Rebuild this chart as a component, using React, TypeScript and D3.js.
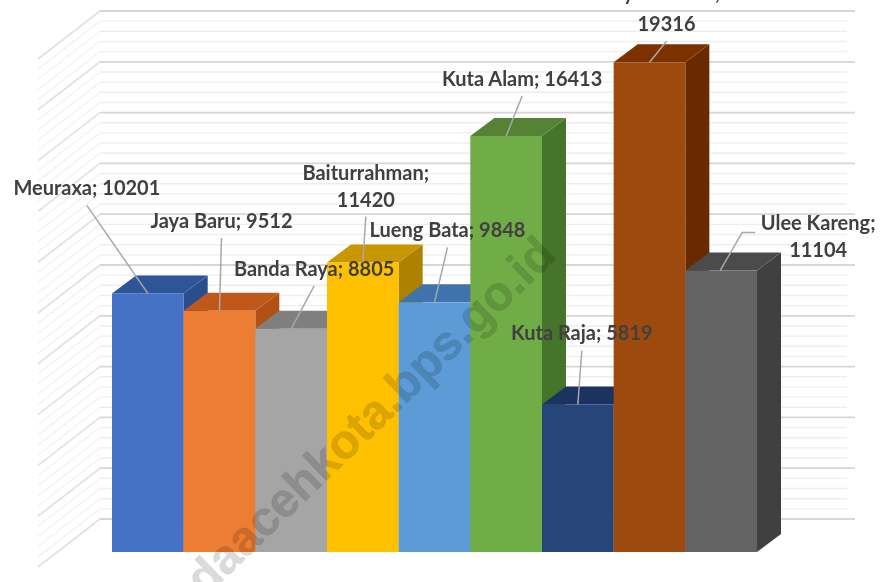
import React from "react";
import * as d3 from "d3";

const categories = ["Meuraxa", "Jaya Baru", "Banda Raya", "Baiturrahman", "Lueng Bata", "Kuta Alam", "Kuta Raja", "Syiah Kuala", "Ulee Kareng"];
const values = [10201, 9512, 8805, 11420, 9848, 16413, 5819, 19316, 11104];

const frontColors = ["#4472c4", "#ed7d31", "#a5a5a5", "#ffc000", "#5b9bd5", "#70ad47", "#264478", "#9e480e", "#636363"];
const topColors = ["#2f5597", "#c0591c", "#7f7f7f", "#c89600", "#3f72ab", "#548235", "#1a3260", "#7b3006", "#4b4b4b"];
const sideColors = ["#2a4d8c", "#b25118", "#7a7a7a", "#ad8200", "#396a9e", "#447529", "#182d57", "#6b2c05", "#404040"];

// label placement relative to the top of each bar
const labelDx = [-61, 2, 23, 3, 13, 16, 4, 17, 97];
const labelDy = [-88, -73, -43, -46, -55, -40, -54, -21, -38];
const wrapGap = [0, 0, 0, 27, 0, 0, 0, 31, 27]; // 0 = single line

const W = 884, H = 582;
const depthX = 24, depthY = 18;
const wallX = 62, wallY = 48;

const x = d3.scaleBand().domain(categories).range([112, 757]);
const y = d3.scaleLinear().domain([0, 20000]).range([552, 45]);
const yBack = d3.scaleLinear().domain([0, 20000]).range([519, 11]);
const gridValues = d3.range(0, 20001, 400);

function Bar({ i }: { i: number }) {
  const x0 = x(categories[i])!;
  const x1 = x0 + x.bandwidth();
  const top = y(values[i]);
  const base = y(0);
  const poly = (pts: number[][]) => pts.map((p) => p.join(",")).join(" ");
  return (
    <g>
      <polygon fill={sideColors[i]} points={poly([[x1, top], [x1 + depthX, top - depthY], [x1 + depthX, base - depthY], [x1, base]])} />
      <polygon fill={topColors[i]} points={poly([[x0, top], [x0 + depthX, top - depthY], [x1 + depthX, top - depthY], [x1, top]])} />
      <rect x={x0} y={top} width={x.bandwidth()} height={base - top} fill={frontColors[i]} />
    </g>
  );
}

function Label({ i }: { i: number }) {
  const cx = x(categories[i])! + x.bandwidth() / 2;
  const top = y(values[i]);
  const lx = cx + labelDx[i];
  const ly = top + labelDy[i];
  const textProps = { x: lx, textAnchor: "middle" as const, fill: "#404040" };
  const isUlee = categories[i] === "Ulee Kareng";
  const leader = isUlee
    ? d3.line()([[cx + 34, top - 38], [cx + 21, top - 38], [cx - 1, top]])
    : d3.line()([[lx, ly], [cx, top]]);
  const textY = isUlee ? ly + 24 : ly - 10;
  return (
    <g>
      <path d={leader!} fill="none" stroke="#a8a8a8" strokeWidth={1.5} />
      {wrapGap[i] > 0 ? (
        <>
          <text {...textProps} y={textY - wrapGap[i]}>{categories[i]};</text>
          <text {...textProps} y={textY}>{values[i]}</text>
        </>
      ) : (
        <text {...textProps} y={textY}>{categories[i]}; {values[i]}</text>
      )}
    </g>
  );
}

export default function App() {
  return (
    <svg width={W} height={H} style={{ position: "absolute", left: 0, top: 0, background: "#fff" }}
      fontFamily="Lato, 'Open Sans', sans-serif" fontSize={20} fontWeight={700}>
      <defs>
        <filter id="soft" x="-2%" y="-2%" width="104%" height="104%">
          <feGaussianBlur stdDeviation={0.75} />
        </filter>
      </defs>
      <g filter="url(#soft)">
        {gridValues.map((v) => {
          const major = v % 2000 === 0;
          const gy = yBack(v);
          return (
            <g key={v} fill="none" strokeWidth={major ? 1.8 : 1.4}>
              <line x1={100} x2={major ? 855 : 847} y1={gy} y2={gy} stroke={major ? "#d6d6d6" : "#eeeeee"} />
              <line x1={100} x2={100 - wallX} y1={gy} y2={gy + wallY} stroke={major ? "#e2e2e2" : "#f3f3f3"} />
            </g>
          );
        })}
        {categories.map((_, i) => <Bar key={i} i={i} />)}
        {categories.map((_, i) => <Label key={i} i={i} />)}
        <text transform="translate(205,598) rotate(-44)" fontFamily="'Liberation Sans', Arial, sans-serif"
          fontSize={48} fontWeight={700} fill="#000" fillOpacity={0.14} stroke="#000" strokeOpacity={0.06} strokeWidth={1}>daacehkota.bps.go.id</text>
      </g>
    </svg>
  );
}
